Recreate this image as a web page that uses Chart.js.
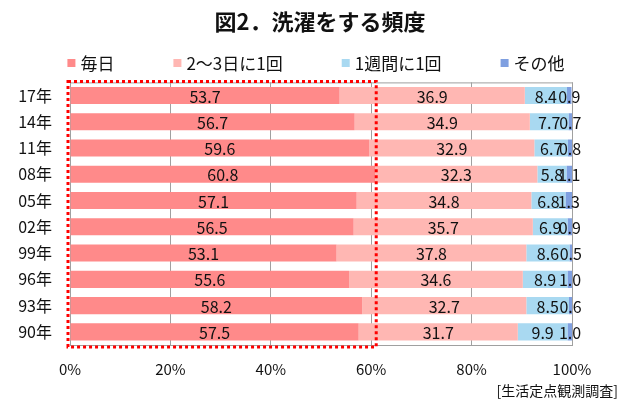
<!DOCTYPE html>
<html>
<head>
<meta charset="utf-8">
<script src="https://cdn.jsdelivr.net/npm/chart.js@4"></script>
<style>
  html, body { margin: 0; padding: 0; background: #fff; }
  #wrap { width: 640px; height: 414px; }
</style>
</head>
<body>
<div id="wrap"><canvas id="chart" width="640" height="414"></canvas></div>
<script>
// survey years, newest on top
const years = ['17年', '14年', '11年', '08年', '05年', '02年', '99年', '96年', '93年', '90年'];
const daily = [53.7, 56.7, 59.6, 60.8, 57.1, 56.5, 53.1, 55.6, 58.2, 57.5];
const every2to3 = [36.9, 34.9, 32.9, 32.3, 34.8, 35.7, 37.8, 34.6, 32.7, 31.7];
const weekly = [8.4, 7.7, 6.7, 5.8, 6.8, 6.9, 8.6, 8.9, 8.5, 9.9];
const other = [0.9, 0.7, 0.8, 1.1, 1.3, 0.9, 0.5, 1.0, 0.6, 1.0];
const seriesNames = ['毎日', '2～3日に1回', '1週間に1回', 'その他'];
const seriesColors = ['#ff8a8a', '#ffb7b3', '#a9d9f1', '#7f9fe0'];
const sourceNote = '[生活定点観測調査]';
const highlightMax = 61; // dotted frame around the "毎日" block

const FONT = '"Noto Sans CJK JP", "Noto Sans", sans-serif';

// value labels centred on every segment
const segmentLabels = {
    id: 'segmentLabels',
    afterDatasetsDraw(chart) {
        const ctx = chart.ctx;
        ctx.save();
        ctx.font = '16px ' + FONT;
        ctx.fillStyle = '#111';
        ctx.textAlign = 'center';
        ctx.textBaseline = 'middle';
        chart.data.datasets.forEach((ds, i) => {
            const meta = chart.getDatasetMeta(i);
            meta.data.forEach((bar, j) => {
                const mid = (bar.x + bar.base) / 2;
                ctx.fillText(ds.data[j].toFixed(1), mid, bar.y + 1);
            });
        });
        ctx.restore();
    }
};

// legend row with wide gaps (built-in legend adds the gap vertically too) + source note
const extras = {
    id: 'extras',
    afterDraw(chart) {
        const ctx = chart.ctx;
        const gap = 59, box = 8, textOff = 13, cy = 63, centre = 316;
        ctx.save();
        ctx.font = '17px ' + FONT;
        ctx.textBaseline = 'middle';
        const widths = seriesNames.map(n => textOff + ctx.measureText(n).width);
        const total = widths.reduce((s, w) => s + w, 0) + gap * (widths.length - 1);
        let x = centre - total / 2;
        seriesNames.forEach((name, i) => {
            ctx.fillStyle = seriesColors[i];
            ctx.fillRect(x, cy - box / 2, box, box);
            ctx.fillStyle = '#111';
            ctx.fillText(name, x + textOff, cy + 1);
            x += widths[i] + gap;
        });
        ctx.font = '14px ' + FONT;
        ctx.textAlign = 'right';
        ctx.fillText(sourceNote, 618, 391);
        ctx.restore();
    }
};

// plot frame + red dotted highlight box
const frame = {
    id: 'frame',
    beforeDatasetsDraw(chart) {
        const { ctx, chartArea: a } = chart;
        ctx.save();
        ctx.strokeStyle = '#a0a0a0';
        ctx.lineWidth = 1;
        ctx.strokeRect(a.left + 0.5, a.top + 0.5, a.right - a.left, a.bottom - a.top);
        ctx.restore();
    },
    afterDatasetsDraw(chart) {
        const { ctx, chartArea: a, scales } = chart;
        const x0 = scales.x.getPixelForValue(0) - 2;
        const x1 = scales.x.getPixelForValue(highlightMax);
        ctx.save();
        ctx.strokeStyle = '#ff0000';
        ctx.lineWidth = 3;
        ctx.setLineDash([3, 3]);
        ctx.strokeRect(x0, a.top - 1, x1 - x0, a.bottom - a.top + 3);
        ctx.restore();
    }
};

const makeSet = (label, data, color) => ({
    label, data,
    backgroundColor: color,
    borderWidth: 0,
    barPercentage: 0.65,
    categoryPercentage: 1.0
});

new Chart(document.getElementById('chart').getContext('2d'), {
    type: 'bar',
    data: {
        labels: years,
        datasets: [daily, every2to3, weekly, other].map((d, i) => makeSet(seriesNames[i], d, seriesColors[i]))
    },
    options: {
        indexAxis: 'y',
        responsive: false,
        animation: false,
        layout: { padding: { left: 12, right: 12, top: 8, bottom: 21 } },
        plugins: {
            title: {
                display: true,
                text: '図2．洗濯をする頻度',
                color: '#111',
                font: { family: FONT, size: 22, weight: 'bold' },
                padding: { top: 0, bottom: 48 }
            },
            legend: { display: false },
            tooltip: { enabled: false }
        },
        scales: {
            x: {
                stacked: true,
                min: 0,
                max: 100,
                ticks: {
                    stepSize: 20,
                    padding: 15,
                    color: '#111',
                    font: { family: FONT, size: 15 },
                    callback: v => v + '%'
                },
                grid: { color: '#a0a0a0', drawTicks: false },
                border: { display: false }
            },
            y: {
                stacked: true,
                ticks: {
                    padding: 10,
                    color: '#111',
                    font: { family: FONT, size: 16 }
                },
                grid: { display: false },
                border: { display: false },
                afterFit(scale) { scale.width = 58; }
            },
            // empty right-hand axis just to keep room on the right
            spacer: {
                type: 'linear',
                axis: 'y',
                position: 'right',
                ticks: { display: false },
                grid: { display: false },
                border: { display: false },
                afterFit(scale) { scale.width = 56; }
            }
        }
    },
    plugins: [frame, segmentLabels, extras]
});
</script>
</body>
</html>
